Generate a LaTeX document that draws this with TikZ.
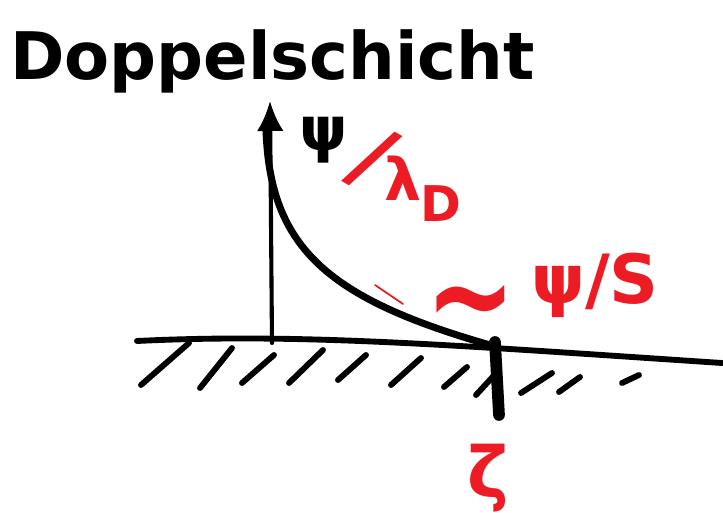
\documentclass[tikz,border=0pt]{standalone}
\usepackage{fontspec}
\setmainfont{DejaVu Sans}
\usetikzlibrary{arrows.meta}
\definecolor{penred}{HTML}{ED1C24}

\begin{document}
\begin{tikzpicture}[x=0.03cm, y=-0.03cm, line cap=round, line join=round,
	pen/.style={line width=#1},
	penlabel/.style={inner sep=0pt, font=\bfseries\fontsize{#1}{#1}\selectfont},
	redlabel/.style={penlabel=#1, text=penred}]
	\useasboundingbox (0,0) rectangle (723,513);
	% Paths, nodes and wires:
	\node[penlabel=56, anchor=base west](N1) at (10,80){Doppelschicht};
	\draw[pen=5pt] (137,341) .. controls (300,333) and (450,345) .. (722,363);
	\draw[pen=3.5pt, -{Latex[length=0.9cm, width=0.8cm]}] (272,343) -- (270,101);
	\draw[pen=6pt] (266,130) .. controls (270,250) and (330,300) .. (497,347);
	\draw[pen=10pt] (495,342) -- (499,415);
	% hatching below the wall
	\draw[pen=5pt] (141,385) -- (189,343) (200,388) -- (232,348) (242,383) -- (274,355)
		(289,383) -- (323,350) (338,380) -- (366,355) (391,385) -- (421,358)
		(444,387) -- (467,367) (476,395) -- (499,370) (521,393) -- (552,373)
		(559,392) -- (580,377) (622,383) -- (639,375);
	% labels
	\node[penlabel=52](N2) at (324,140){ψ};
	\node[redlabel=72, rotate=-30](N3) at (372,159){/};
	\node[redlabel=50](N4) at (403,178){λ};
	\node[redlabel=42](N5) at (441,204){D};
	\draw[penred, pen=1.5pt] (375,285) -- (403,304);
	\node[redlabel=84, xscale=1.1, yscale=1.4](N6) at (471,314){∼};
	\node[redlabel=58](N7) at (595,285){ψ/S};
	\node[redlabel=60](N8) at (488,478){ζ};
\end{tikzpicture}
\end{document}
